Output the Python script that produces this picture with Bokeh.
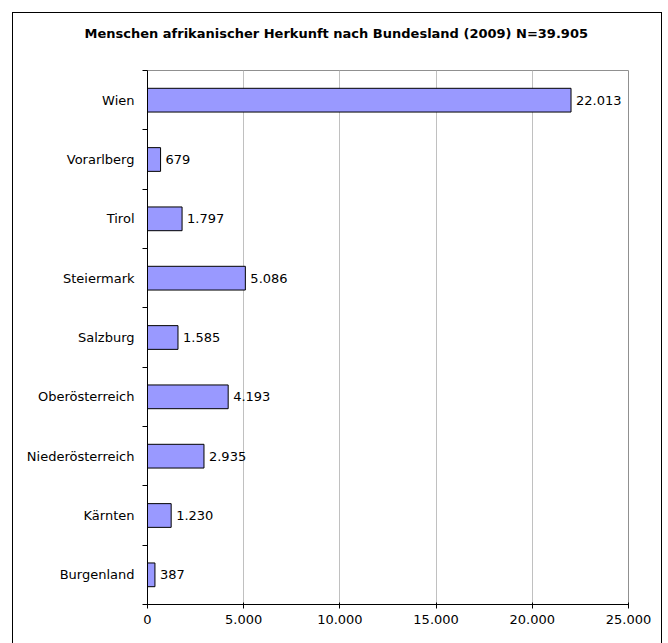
from bokeh.plotting import figure
from bokeh.models import Range1d, FixedTicker, ColumnDataSource, Title
from bokeh.core.properties import value
from bokeh.embed import file_html
from bokeh.resources import INLINE

# Data (bottom to top, as drawn)
categories = ["Burgenland", "Kärnten", "Niederösterreich", "Oberösterreich",
              "Salzburg", "Steiermark", "Tirol", "Vorarlberg", "Wien"]
counts = [387, 1230, 2935, 4193, 1585, 5086, 1797, 679, 22013]
x_ticks = [0, 5000, 10000, 15000, 20000, 25000]
title_text = "Menschen afrikanischer Herkunft nach Bundesland (2009) N=39.905"


def de_num(v):
    return f"{v:,}".replace(",", ".")


n = len(categories)
centers = [i + 0.5 for i in range(n)]
source = ColumnDataSource(dict(
    y=centers,
    right=counts,
    label=[de_num(v) for v in counts],
))

FONT = "DejaVu Sans"

p = figure(width=650, height=632, output_backend="svg", toolbar_location=None,
           title=None,
           x_range=Range1d(0, 25000), y_range=Range1d(0, n),
           min_border_left=134, min_border_right=35,
           min_border_top=57, min_border_bottom=41)
p.styles = {"border": "1px solid #000000", "margin-left": "12px", "margin-top": "12px"}
p.background_fill_color = "white"
p.border_fill_color = "white"
p.outline_line_color = "#909090"
p.outline_line_width = 1

# spacer (closest to the frame), then the real title above it
spacer = Title(text=" ", text_font=FONT, text_font_size="13px", standoff=13)
p.add_layout(spacer, "above")
main_title = Title(text=title_text, align="left", offset=-63, standoff=0,
                   text_font=FONT, text_font_size="13px", text_font_style="bold",
                   text_color="#000000")
p.add_layout(main_title, "above")

p.hbar(y="y", right="right", left=0, height=0.4, source=source,
       fill_color="#9999FF", line_color="#000000", line_width=1)

p.text(x="right", y="y", text="label", source=source, x_offset=5,
       text_baseline="middle", text_align="left",
       text_font=value(FONT), text_font_size="13px", text_color="#000000")

# x axis
p.xaxis.ticker = FixedTicker(ticks=x_ticks)
p.xaxis.major_label_overrides = {t: de_num(t) for t in x_ticks}
p.xaxis.axis_line_color = "#000000"
p.xaxis.major_tick_line_color = "#000000"
p.xaxis.major_tick_in = 2
p.xaxis.major_tick_out = 4
p.xaxis.minor_tick_line_color = None
p.xaxis.major_label_standoff = 6
p.xaxis.major_label_text_font = FONT
p.xaxis.major_label_text_font_size = "13px"
p.xaxis.major_label_text_color = "#000000"

# y axis: labels at category centers, ticks at category boundaries
p.yaxis.ticker = FixedTicker(ticks=centers, minor_ticks=list(range(n + 1)))
p.yaxis.major_label_overrides = {c: cat for c, cat in zip(centers, categories)}
p.yaxis.axis_line_color = "#000000"
p.yaxis.major_tick_line_color = None
p.yaxis.major_tick_in = 0
p.yaxis.major_tick_out = 0
p.yaxis.minor_tick_line_color = "#000000"
p.yaxis.minor_tick_in = 0
p.yaxis.minor_tick_out = 5
p.yaxis.major_label_standoff = 8
p.yaxis.major_label_text_font = FONT
p.yaxis.major_label_text_font_size = "13px"
p.yaxis.major_label_text_color = "#000000"

p.xgrid.grid_line_color = "#C0C0C0"
p.ygrid.grid_line_color = None

open("out.html", "w").write(file_html(p, INLINE))
